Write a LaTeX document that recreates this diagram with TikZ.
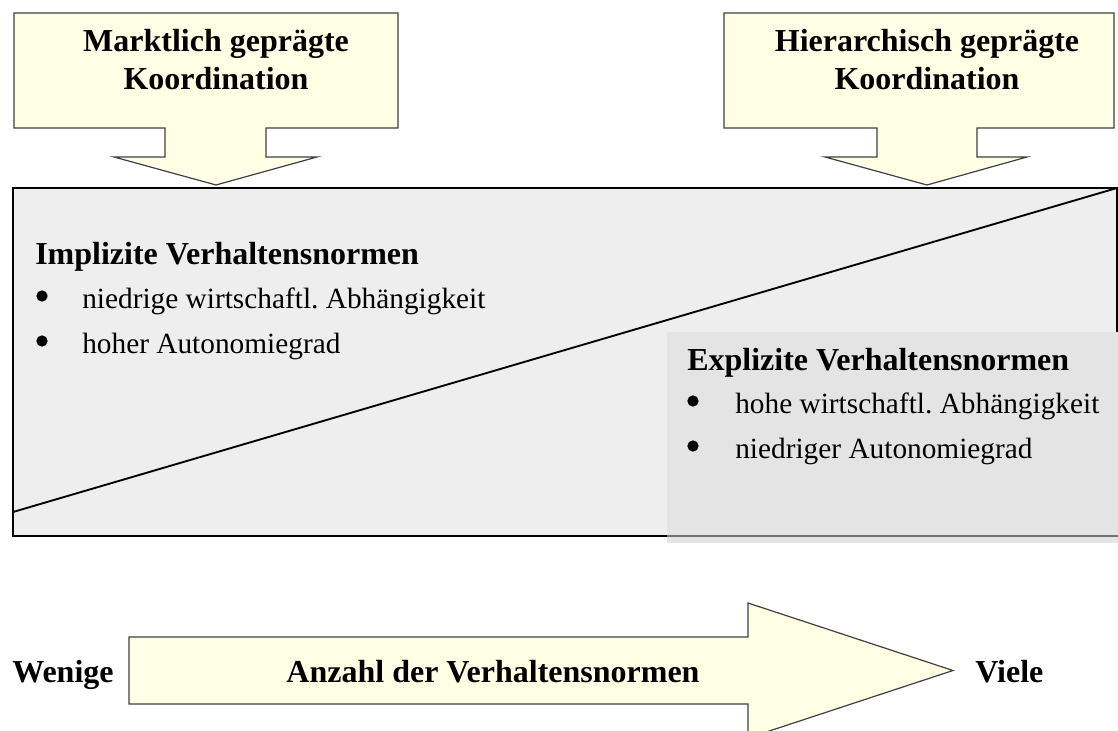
\documentclass[tikz,border=0pt]{standalone}
\usepackage{fontspec}
\setmainfont{Liberation Serif}
\frenchspacing

\definecolor{hellgelb}{RGB}{255,255,230}
\definecolor{hellgrau}{RGB}{238,238,238}
\definecolor{mittelgrau}{RGB}{228,228,228}

\begin{document}
\begin{tikzpicture}[x=0.75pt,y=-0.75pt,
  titel/.style={font=\fontsize{24}{28.5}\selectfont\bfseries, inner sep=0pt},
  punkt/.style={font=\fontsize{22}{26}\selectfont, inner sep=0pt, anchor=base west},
  kreis/.style={circle, fill, inner sep=0pt, minimum size=8.5pt},
  pfeil/.style={fill=hellgelb, draw=black!75, line width=0.9pt, line join=miter}]

  \useasboundingbox (0,0) rectangle (1118,731);

  % Kasten mit Diagonale
  \draw[fill=hellgrau, line width=1.4pt]
    (13,188) rectangle (1117,536);
  \draw[line width=1.4pt]
    (13,512) -- (1117,188);

  % Kasten rechts
  \fill[mittelgrau]
    (667,332) rectangle (1118,543);
  \draw[black!55, line width=1.4pt]
    (667,536) -- (1118,536);

  % Pfeil links oben
  \draw[pfeil]
    (14,13) -- (398,13) -- (398,128) -- (266,128) -- (266,157)
    -- (317,157) -- (216,185) -- (114,157) -- (165,157)
    -- (165,128) -- (14,128) -- cycle;
  \node[titel, align=center, anchor=base] (markt) at (216,90)
    {Marktlich geprägte\\Koordination};

  % Pfeil rechts oben
  \draw[pfeil]
    (724,13) -- (1114,13) -- (1114,128) -- (977,128) -- (977,157)
    -- (1027,157) -- (927,185) -- (825,157) -- (877,157)
    -- (877,128) -- (724,128) -- cycle;
  \node[titel, align=center, anchor=base] (hier) at (927,90)
    {Hierarchisch geprägte\\Koordination};

  % Implizite Normen
  \node[titel, anchor=base west] (impl) at (35,264)
    {Implizite Verhaltensnormen};
  \node[kreis] (ib1) at (42,296) {};
  \node[punkt] (it1) at (82,308) {niedrige wirtschaftl. Abhängigkeit};
  \node[kreis] (ib2) at (42,341) {};
  \node[punkt] (it2) at (82,353) {hoher Autonomiegrad};

  % Explizite Normen
  \node[titel, anchor=base west] (expl) at (687,370)
    {Explizite Verhaltensnormen};
  \node[kreis] (eb1) at (693,401) {};
  \node[punkt] (et1) at (735,413) {hohe wirtschaftl. Abhängigkeit};
  \node[kreis] (eb2) at (693,446) {};
  \node[punkt] (et2) at (735,458) {niedriger Autonomiegrad};

  % Pfeil unten
  \draw[pfeil]
    (129,637) -- (748,637) -- (748,603) -- (953,670.5)
    -- (748,738) -- (748,704) -- (129,704) -- cycle;
  \node[titel, anchor=base] (anzahl) at (493,682)
    {Anzahl der Verhaltensnormen};
  \node[titel, anchor=base west] (wenig) at (12,682) {Wenige};
  \node[titel, anchor=base west] (viel) at (975,682) {Viele};

\end{tikzpicture}
\end{document}
